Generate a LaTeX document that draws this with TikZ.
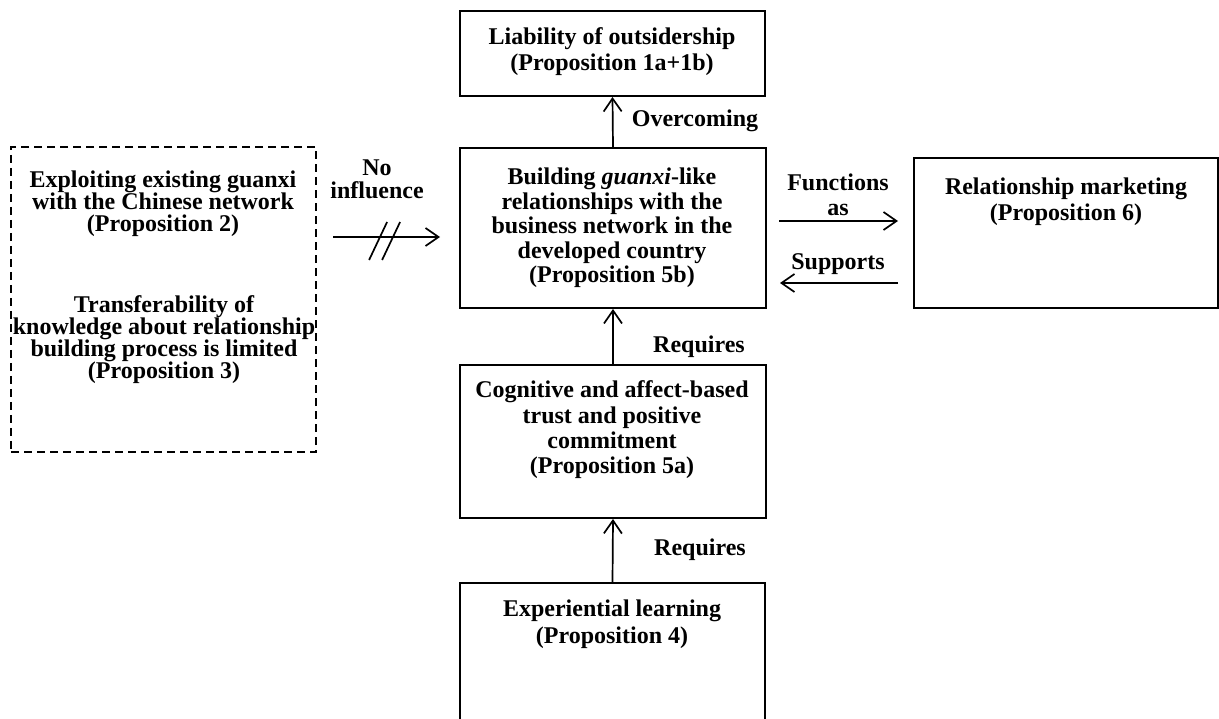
\documentclass[tikz,border=0pt]{standalone}
\usepackage{fontspec}
\setmainfont{Liberation Serif}
\usetikzlibrary{arrows.meta}

\tikzset{
  box/.style={draw,line width=2pt,anchor=north west,inner sep=0pt},
  dbox/.style={box,line width=2pt,dash pattern=on 8pt off 5pt},
  txt/.style={align=center,inner sep=0pt,font=\fontsize{24}{#1}\selectfont\bfseries},
  txt/.default=25,
  arr/.style={line width=1.7pt,-{Straight Barb[length=13pt,width=18pt,line width=1.7pt]}},
}

\begin{document}
\begin{tikzpicture}[x=1pt,y=-1pt]
\clip (0,0) rectangle (1219,719);
% boxes
\node[box,minimum width=305,minimum height=85] (lia) at (459,10) {};
\node[box,minimum width=306,minimum height=160] (gx) at (459,147) {};
\node[box,minimum width=304,minimum height=150] (rm) at (913,157) {};
\node[dbox,minimum width=305,minimum height=305] (ex) at (10,146) {};
\node[box,minimum width=306,minimum height=153] (trust) at (459,364) {};
\node[box,minimum width=305,minimum height=180] (learn) at (459,582) {};
% texts
\node[txt=26] (liatxt) at (612,52) {Liability of outsidership\\(Proposition 1a+1b)};
\node[txt=24.5] (gxtxt) at (612,228) {Building \textit{guanxi}-like\\relationships with the\\business network in the\\developed country\\(Proposition 5b)};
\node[txt=26] (rmtxt) at (1066,202) {Relationship marketing\\(Proposition 6)};
\node[txt=22] (exatxt) at (163,204) {Exploiting existing guanxi\\with the Chinese network\\(Proposition 2)};
\node[txt=22] (exbtxt) at (164,340) {Transferability of\\knowledge about relationship\\building process is limited\\(Proposition 3)};
\node[txt=25.3] (trusttxt) at (612,430) {Cognitive and affect-based\\trust and positive\\commitment\\(Proposition 5a)};
\node[txt=27] (learntxt) at (612,624) {Experiential learning\\(Proposition 4)};
% connectors
\draw[arr] (gx.north) -- (lia.south);
\draw[arr] (trust.north) -- (gx.south);
\draw[arr] (learn.north) -- (trust.south);
\draw[arr,shorten <=12pt,shorten >=15pt] (gx.east |- 0,221) -- (rm.west |- 0,221);
\draw[arr,shorten <=15pt,shorten >=13pt] (rm.west |- 0,283) -- (gx.east |- 0,283);
\draw[arr,shorten <=16pt,shorten >=19pt] (ex.east |- 0,237) -- coordinate[pos=0.476] (cut) (gx.west |- 0,237);
\foreach \d in {-6.5,6.5}
  \draw[line width=1.7pt] ([xshift=\d pt,yshift=-4pt]cut) ++(-9pt,-19pt) -- ++(18pt,38pt);
% labels
\node[txt] (over) at (695,121) {Overcoming};
\node[txt] (req1) at (699,347) {Requires};
\node[txt] (req2) at (700,550) {Requires};
\node[txt] (func) at (838,195) {Functions\\as};
\node[txt] (supp) at (838,264) {Supports};
\node[txt=23] (noinf) at (377,179) {No\\influence};
\end{tikzpicture}
\end{document}
